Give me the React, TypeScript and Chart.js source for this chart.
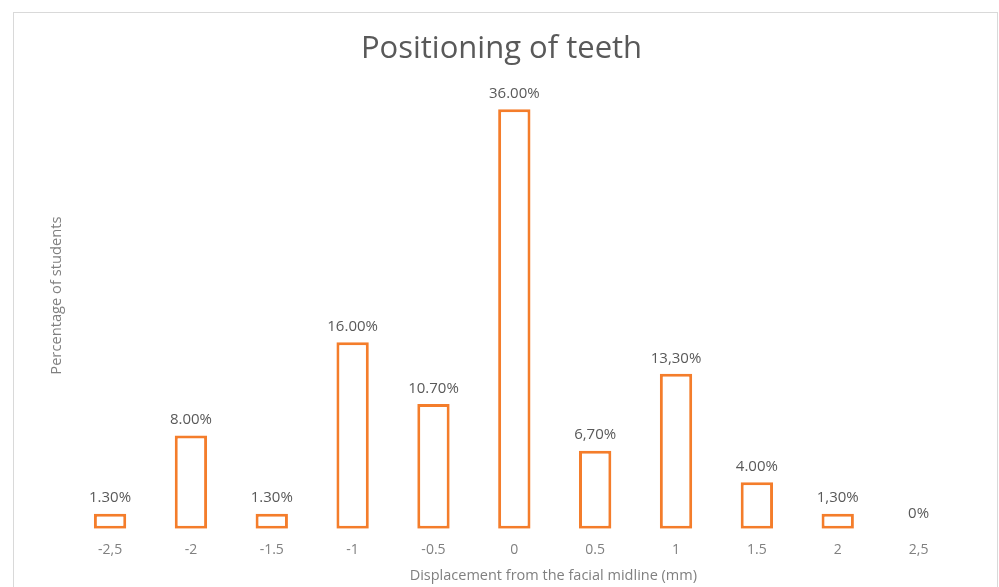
import React, { useEffect, useRef } from "react";
import { Chart, registerables } from "chart.js";

Chart.register(...registerables);

const categories = ["-2,5", "-2", "-1.5", "-1", "-0.5", "0", "0.5", "1", "1.5", "2", "2,5"];
const percentages = [1.3, 8.0, 1.3, 16.0, 10.7, 36.0, 6.7, 13.3, 4.0, 1.3, 0];
const valueLabels = ["1.30%", "8.00%", "1.30%", "16.00%", "10.70%", "36.00%", "6,70%", "13,30%", "4.00%", "1,30%", "0%"];
const xAxisTitle = "Displacement from the facial midline (mm)";

const ORANGE = "#F47D2B";
const FONT = "'Open Sans', 'Liberation Sans', sans-serif";

// White sheet with a thin grey frame, like an embedded spreadsheet chart
const framePlugin = {
  id: "frame",
  beforeDraw(chart: any) {
    const { ctx, width, height } = chart;
    ctx.save();
    ctx.fillStyle = "#ffffff";
    ctx.fillRect(0, 0, width, height);
    ctx.strokeStyle = "#d9d9d9";
    ctx.lineWidth = 1;
    ctx.strokeRect(13.5, 12.5, width - 15, height + 20);
    ctx.restore();
  },
};

// Percentage text above each bar
const valueLabelPlugin = {
  id: "valueLabels",
  afterDatasetsDraw(chart: any) {
    const { ctx } = chart;
    const meta = chart.getDatasetMeta(0);
    ctx.save();
    ctx.font = `15px ${FONT}`;
    ctx.fillStyle = "#595959";
    ctx.textAlign = "center";
    ctx.textBaseline = "bottom";
    meta.data.forEach((bar: any, i: number) => {
      ctx.fillText(valueLabels[i], bar.x, bar.y - 8);
    });
    ctx.restore();
  },
};

// Horizontal axis title, nudged right of the plot centre
const xTitlePlugin = {
  id: "xTitle",
  afterDraw(chart: any) {
    const { ctx, chartArea } = chart;
    ctx.save();
    ctx.font = `14.5px ${FONT}`;
    ctx.fillStyle = "#808080";
    ctx.textAlign = "center";
    ctx.textBaseline = "middle";
    ctx.fillText(xAxisTitle, (chartArea.left + chartArea.right) / 2 + 39, chartArea.bottom + 47);
    ctx.restore();
  },
};

export default function App() {
  const canvasRef = useRef<HTMLCanvasElement | null>(null);

  useEffect(() => {
    document.body.style.margin = "0";
    const canvas = canvasRef.current;
    if (!canvas) return;
    const chart = new Chart(canvas, {
      type: "bar",
      data: {
        labels: categories,
        datasets: [
          {
            data: percentages,
            backgroundColor: "#ffffff",
            borderColor: ORANGE,
            borderWidth: (c: any) => (c.raw > 0 ? 3 : 0),
            borderSkipped: false,
            barPercentage: 0.4,
            categoryPercentage: 1,
          },
        ],
      },
      options: {
        responsive: false,
        animation: false,
        layout: { padding: { left: 44, right: 40, top: 20, bottom: 15.4 } },
        plugins: {
          legend: { display: false },
          tooltip: { enabled: false },
          title: {
            display: true,
            text: "Positioning of teeth",
            color: "#595959",
            font: { family: FONT, size: 31, weight: "normal", lineHeight: 1 },
            padding: { top: 13.5, bottom: -2 },
          },
        },
        scales: {
          x: {
            grid: { display: false, drawTicks: false },
            border: { display: false },
            ticks: { color: "#808080", font: { family: FONT, size: 14 }, padding: 13 },
          },
          y: {
            min: 0,
            max: 40,
            grid: { display: false, drawTicks: false },
            border: { display: false },
            ticks: { display: false },
            title: {
              display: true,
              text: "Percentage of students",
              color: "#808080",
              font: { family: FONT, size: 14.7 },
              padding: { top: 4, bottom: 4 },
            },
          },
        },
      },
      plugins: [framePlugin, valueLabelPlugin, xTitlePlugin],
    });
    return () => chart.destroy();
  }, []);

  return <canvas ref={canvasRef} width={999} height={587} style={{ display: "block" }} />;
}
